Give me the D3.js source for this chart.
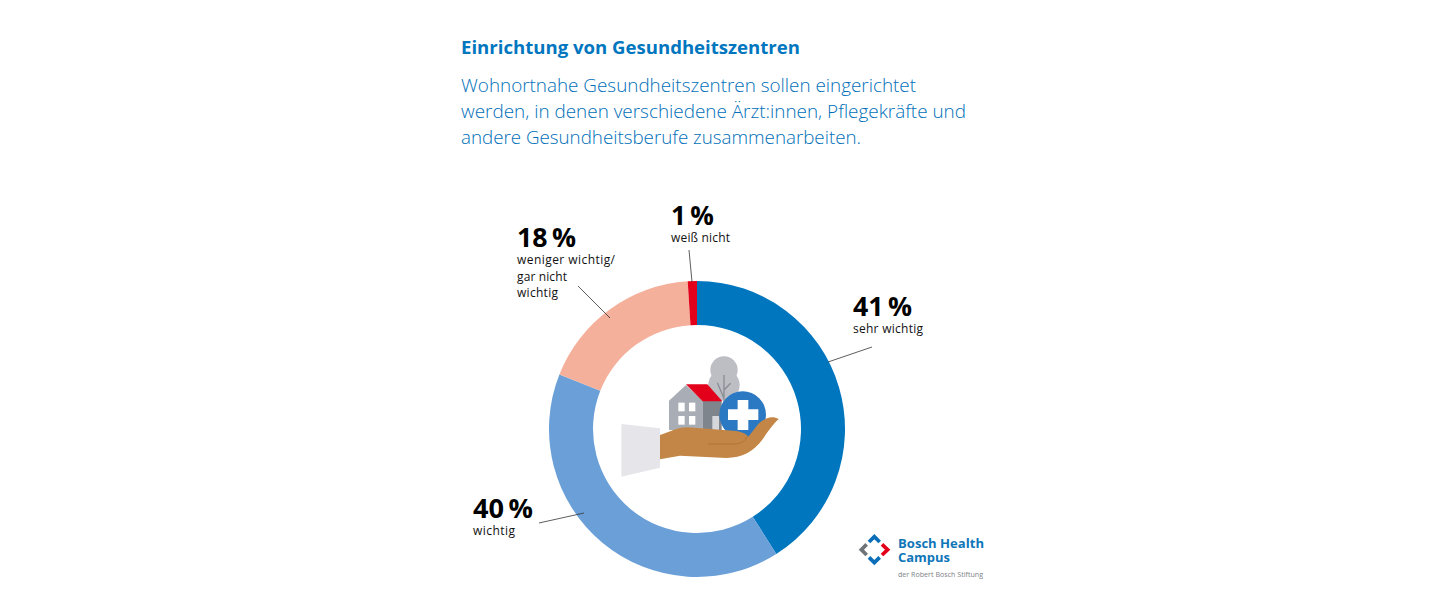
<!DOCTYPE html>
<html lang="de"><head><meta charset="utf-8">
<script src="https://cdn.jsdelivr.net/npm/d3@7/dist/d3.min.js"></script>
<style>html,body{margin:0;padding:0;background:#fff}svg{display:block}text{font-family:"Open Sans",sans-serif}</style>
</head><body><svg id="c" width="1440" height="604"></svg>
<script>
const categories = ["sehr wichtig","wichtig","weniger wichtig / gar nicht wichtig","weiß nicht"];
const values = [41,40,18,1];
const colors = ["#0076bf","#6a9fd8","#f4b09a","#e2001a"];
const titleText = "Einrichtung von Gesundheitszentren";
const subtitleLines = ["Wohnortnahe Gesundheitszentren sollen eingerichtet","werden, in denen verschiedene Ärzt:innen, Pflegekräfte und","andere Gesundheitsberufe zusammenarbeiten."];
const labelLines = [["sehr wichtig"],["wichtig"],["weniger wichtig/","gar nicht","wichtig"],["weiß nicht"]];
const labelLayout = [
 {x:853,y:316,w:59,line:[828,362,872,347]},
 {x:473,y:518,w:60,line:[539,523,584,513]},
 {x:517,y:247,w:59,line:[578,286,610,318]},
 {x:671,y:225,w:43,line:[689,250,692,282]}
];
const subWidths = [455,505,400];
const smallWidths = [[70],[42],[98,50,41],[59]];
const svg = d3.select("#c");
svg.append("text").attr("x",461).attr("y",54).attr("fill","#0076bf").attr("font-size",17.5).attr("font-weight",700).attr("textLength",339).attr("lengthAdjust","spacingAndGlyphs").text(titleText);
svg.selectAll(".sub").data(subtitleLines).join("text").attr("class","sub").attr("x",461).attr("y",(d,i)=>92+i*26)
 .attr("fill","#006fb8").attr("font-size",18.5).attr("font-weight",300).attr("textLength",(d,i)=>subWidths[i]).attr("lengthAdjust","spacingAndGlyphs").text(d=>d);
const pie = d3.pie().sort(null).value(d=>d)(values);
const arc = d3.arc().innerRadius(104).outerRadius(148);
const g = svg.append("g").attr("transform","translate(697,429)");
g.selectAll("path").data(pie).join("path").attr("d",arc).attr("fill",(d,i)=>colors[i]);
values.forEach((v,i)=>{
 const L = labelLayout[i];
 svg.append("line").attr("x1",L.line[0]).attr("y1",L.line[1]).attr("x2",L.line[2]).attr("y2",L.line[3]).attr("stroke","#333").attr("stroke-width",0.8);
 svg.append("text").attr("x",L.x).attr("y",L.y).attr("font-size",26).attr("font-weight",700).attr("fill","#000").attr("textLength",L.w).attr("lengthAdjust","spacingAndGlyphs").text(v+"\u2009%");
 labelLines[i].forEach((t,j)=>svg.append("text").attr("x",L.x).attr("y",L.y+17+j*16.5).attr("font-size",12).attr("fill","#111").attr("textLength",smallWidths[i][j]).attr("lengthAdjust","spacing").text(t));
});
// illustration
const il = svg.append("g").attr("transform","translate(600,340) scale(0.3333)");
il.append("circle").attr("cx",372).attr("cy",90).attr("r",41).attr("fill","#bcbec4");
il.append("circle").attr("cx",372).attr("cy",135).attr("r",47).attr("fill","#bcbec4");
il.append("path").attr("d","M372,105V185M372,150L392,130M372,175L352,128").attr("stroke","#8a8d94").attr("stroke-width",4).attr("fill","none");
il.append("path").attr("d","M207,182L258,135L308,182V270H207Z").attr("fill","#a9adb5");
il.append("path").attr("d","M308,182H365V270H308Z").attr("fill","#7f858d");
il.append("path").attr("d","M258,133H322L367,184H308Z").attr("fill","#e2001a");
[[235,188],[267,188],[235,228],[267,228]].forEach(p=>il.append("rect").attr("x",p[0]).attr("y",p[1]).attr("width",19).attr("height",26).attr("fill","#fff"));
il.append("rect").attr("x",337).attr("y",228).attr("width",20).attr("height",42).attr("fill","#d5d7db");
il.append("circle").attr("cx",428).attr("cy",224).attr("r",70).attr("fill","#2b79c2");
il.append("path").attr("d","M413,180H445V208H475V240H445V270H413V240H384V208H413Z").attr("fill","#fff");
il.append("path").attr("d","M64,252L180,265V383L64,410Z").attr("fill","#e6e6ea");
il.append("path").attr("d","M180,285C210,277 230,262 262,262L400,272C425,274 440,282 445,290L472,256C490,235 515,224 536,237C522,250 505,272 488,298C462,335 425,354 380,354L240,347L180,358Z").attr("fill","#c48647");
il.append("path").attr("d","M325,312H405C425,312 438,300 441,290").attr("stroke","#ad7439").attr("stroke-width",3).attr("fill","none");
// logo
const lg = svg.append("g").attr("transform","translate(840,520) scale(0.3333)");
[["M87,66L103,50L119,66","#0a6fb8"],["M87,112L103,128L119,112","#0a6fb8"],["M80,73L64,89L80,105","#6f7479"],["M126,73L143,89L126,105","#e2001a"]]
 .forEach(d=>lg.append("path").attr("d",d[0]).attr("fill","none").attr("stroke",d[1]).attr("stroke-width",11));
svg.append("text").attr("x",898).attr("y",548).attr("font-size",12.5).attr("font-weight",700).attr("fill","#0f76b8").attr("textLength",86).attr("lengthAdjust","spacingAndGlyphs").text("Bosch Health");
svg.append("text").attr("x",898).attr("y",562).attr("font-size",12.5).attr("font-weight",700).attr("fill","#0f76b8").attr("textLength",52).attr("lengthAdjust","spacingAndGlyphs").text("Campus");
svg.append("text").attr("x",898).attr("y",576.5).attr("font-size",7).attr("fill","#7d8288").attr("textLength",85).attr("lengthAdjust","spacingAndGlyphs").text("der Robert Bosch Stiftung");
</script></body></html>
